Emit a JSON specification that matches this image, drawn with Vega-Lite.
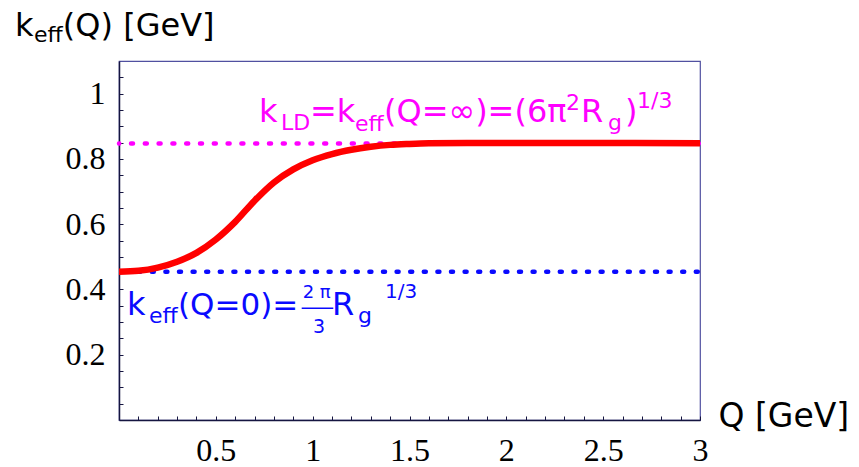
{
  "$schema": "https://vega.github.io/schema/vega-lite/v6.json",
  "width": 581,
  "height": 359,
  "autosize": {"type": "none"},
  "padding": {"left": 119, "top": 61, "right": 159, "bottom": 47},
  "background": "white",
  "config": {
    "view": {"stroke": "#5050a0", "strokeWidth": 1.2},
    "axis": {"grid": false, "domainColor": "#151540", "domainWidth": 1.5, "tickColor": "#151540", "tickWidth": 1, "labelFont": "Liberation Serif", "labelFontSize": 32, "labelColor": "#000000"},
    "text": {"font": "DejaVu Sans", "fontWeight": "normal", "align": "left", "baseline": "alphabetic"}
  },
  "datasets": {
    "curve": [
      {"Q": 0.0, "k": 0.454},
      {"Q": 0.1, "k": 0.457},
      {"Q": 0.2, "k": 0.467},
      {"Q": 0.3, "k": 0.485},
      {"Q": 0.4, "k": 0.512},
      {"Q": 0.5, "k": 0.553},
      {"Q": 0.6, "k": 0.607},
      {"Q": 0.7, "k": 0.672},
      {"Q": 0.8, "k": 0.728},
      {"Q": 0.9, "k": 0.768},
      {"Q": 1.0, "k": 0.796},
      {"Q": 1.1, "k": 0.815},
      {"Q": 1.2, "k": 0.828},
      {"Q": 1.3, "k": 0.837},
      {"Q": 1.4, "k": 0.843},
      {"Q": 1.5, "k": 0.846},
      {"Q": 1.6, "k": 0.848},
      {"Q": 1.8, "k": 0.849},
      {"Q": 2.2, "k": 0.849},
      {"Q": 3.0, "k": 0.848}
    ],
    "one": [{"n": 1}]
  },
  "data": {"name": "one"},
  "layer": [
    {
      "mark": {"type": "rule", "color": "#ff00ff", "strokeWidth": 4.5, "strokeDash": [2, 11.8], "strokeCap": "round", "strokeDashOffset": 12.6},
      "encoding": {"y": {"datum": 0.847, "type": "quantitative"}}
    },
    {
      "mark": {"type": "rule", "color": "#0a0aff", "strokeWidth": 4.5, "strokeDash": [2, 11.6], "strokeCap": "round", "strokeDashOffset": 11.4},
      "encoding": {"y": {"datum": 0.454, "type": "quantitative"}}
    },
    {
      "data": {"name": "curve"},
      "mark": {"type": "line", "color": "#ff0000", "strokeWidth": 6.5, "interpolate": "monotone", "clip": true},
      "encoding": {
        "x": {"field": "Q", "type": "quantitative",
          "scale": {"domain": [0, 3], "nice": false, "zero": false},
          "axis": {
            "values": [0.1,0.2,0.3,0.4,0.5,0.6,0.7,0.8,0.9,1.0,1.1,1.2,1.3,1.4,1.5,1.6,1.7,1.8,1.9,2.0,2.1,2.2,2.3,2.4,2.5,2.6,2.7,2.8,2.9,3.0],
            "tickCount": 100,
            "labelExpr": "abs(datum.value*2 - round(datum.value*2)) < 0.001 ? format(datum.value, '~g') : ''",
            "labelOverlap": false,
            "labelFlush": false,
            "tickSize": -4,
            "labelPadding": 44.7,
            "labelBaseline": "alphabetic",
            "title": "Q [GeV]",
            "titleFont": "DejaVu Sans",
            "titleFontSize": 33,
            "titleFontWeight": "normal",
            "titleColor": "#000000",
            "titleAlign": "left",
            "titleBaseline": "alphabetic",
            "titleAnchor": "start",
            "titleX": 599,
            "titleY": 6.7
          }
        },
        "y": {"field": "k", "type": "quantitative",
          "scale": {"domain": [0, 1.1], "nice": false, "zero": false},
          "axis": {
            "values": [0.05,0.1,0.15,0.2,0.25,0.3,0.35,0.4,0.45,0.5,0.55,0.6,0.65,0.7,0.75,0.8,0.85,0.9,0.95,1.0,1.05],
            "tickCount": 100,
            "labelExpr": "abs(datum.value*5 - round(datum.value*5)) < 0.001 ? format(datum.value, '~g') : ''",
            "labelOverlap": false,
            "labelFlush": false,
            "tickSize": -4,
            "labelPadding": 18,
            "title": null
          }
        }
      }
    },
    {"mark": {"type": "text", "text": "k", "fontSize": 32, "fill": "#000000"},
     "encoding": {"x": {"datum": -0.5370, "type": "quantitative"}, "y": {"datum": 1.1765, "type": "quantitative"}}},
    {"mark": {"type": "text", "text": "eff", "fontSize": 22, "fill": "#000000"},
     "encoding": {"x": {"datum": -0.4389, "type": "quantitative"}, "y": {"datum": 1.1581, "type": "quantitative"}}},
    {"mark": {"type": "text", "text": "(Q) [GeV]", "fontSize": 32, "fill": "#000000"},
     "encoding": {"x": {"datum": -0.290, "type": "quantitative"}, "y": {"datum": 1.1765, "type": "quantitative"}}},

    {"mark": {"type": "text", "text": "k", "fontSize": 32, "fill": "#ff00ff"},
     "encoding": {"x": {"datum": 0.7229, "type": "quantitative"}, "y": {"datum": 0.9139, "type": "quantitative"}}},
    {"mark": {"type": "text", "text": "LD", "fontSize": 22, "fill": "#ff00ff"},
     "encoding": {"x": {"datum": 0.8365, "type": "quantitative"}, "y": {"datum": 0.8885, "type": "quantitative"}}},
    {"mark": {"type": "text", "text": "=k", "fontSize": 32, "fill": "#ff00ff"},
     "encoding": {"x": {"datum": 0.9862, "type": "quantitative"}, "y": {"datum": 0.9139, "type": "quantitative"}}},
    {"mark": {"type": "text", "text": "eff", "fontSize": 22, "fill": "#ff00ff"},
     "encoding": {"x": {"datum": 1.2186, "type": "quantitative"}, "y": {"datum": 0.887, "type": "quantitative"}}},
    {"mark": {"type": "text", "text": "(Q=∞)=(6π", "fontSize": 32, "fill": "#ff00ff"},
     "encoding": {"x": {"datum": 1.3683, "type": "quantitative"}, "y": {"datum": 0.9139, "type": "quantitative"}}},
    {"mark": {"type": "text", "text": "2", "fontSize": 22, "fill": "#ff00ff"},
     "encoding": {"x": {"datum": 2.3080, "type": "quantitative"}, "y": {"datum": 0.9498, "type": "quantitative"}}},
    {"mark": {"type": "text", "text": "R", "fontSize": 32, "fill": "#ff00ff"},
     "encoding": {"x": {"datum": 2.3855, "type": "quantitative"}, "y": {"datum": 0.9139, "type": "quantitative"}}},
    {"mark": {"type": "text", "text": "g", "fontSize": 22, "fill": "#ff00ff"},
     "encoding": {"x": {"datum": 2.5248, "type": "quantitative"}, "y": {"datum": 0.8885, "type": "quantitative"}}},
    {"mark": {"type": "text", "text": ")", "fontSize": 32, "fill": "#ff00ff"},
     "encoding": {"x": {"datum": 2.6127, "type": "quantitative"}, "y": {"datum": 0.9139, "type": "quantitative"}}},
    {"mark": {"type": "text", "text": "1/3", "fontSize": 22, "fill": "#ff00ff"},
     "encoding": {"x": {"datum": 2.6747, "type": "quantitative"}, "y": {"datum": 0.955, "type": "quantitative"}}},

    {"mark": {"type": "text", "text": "k", "fontSize": 32, "fill": "#0a0aff"},
     "encoding": {"x": {"datum": 0.0413, "type": "quantitative"}, "y": {"datum": 0.3217, "type": "quantitative"}}},
    {"mark": {"type": "text", "text": "eff", "fontSize": 22, "fill": "#0a0aff"},
     "encoding": {"x": {"datum": 0.1550, "type": "quantitative"}, "y": {"datum": 0.2981, "type": "quantitative"}}},
    {"mark": {"type": "text", "text": "(Q=0)=", "fontSize": 31, "fill": "#0a0aff"},
     "encoding": {"x": {"datum": 0.3046, "type": "quantitative"}, "y": {"datum": 0.3217, "type": "quantitative"}}},
    {"mark": {"type": "text", "text": "2 π", "fontSize": 18, "align": "center", "fill": "#0a0aff"},
     "encoding": {"x": {"datum": 1.0208, "type": "quantitative"}, "y": {"datum": 0.3729, "type": "quantitative"}}},
    {"mark": {"type": "rule", "color": "#0a0aff", "strokeWidth": 1.5},
     "encoding": {"x": {"datum": 0.9434, "type": "quantitative"}, "x2": {"datum": 1.1065}, "y": {"datum": 0.3422, "type": "quantitative"}}},
    {"mark": {"type": "text", "text": "3", "fontSize": 19, "align": "center", "fill": "#0a0aff"},
     "encoding": {"x": {"datum": 1.0327, "type": "quantitative"}, "y": {"datum": 0.2656, "type": "quantitative"}}},
    {"mark": {"type": "text", "text": "R", "fontSize": 32, "fill": "#0a0aff"},
     "encoding": {"x": {"datum": 1.0998, "type": "quantitative"}, "y": {"datum": 0.3217, "type": "quantitative"}}},
    {"mark": {"type": "text", "text": "g", "fontSize": 22, "fill": "#0a0aff"},
     "encoding": {"x": {"datum": 1.2341, "type": "quantitative"}, "y": {"datum": 0.2981, "type": "quantitative"}}},
    {"mark": {"type": "text", "text": "1/3", "fontSize": 20, "fill": "#0a0aff"},
     "encoding": {"x": {"datum": 1.3735, "type": "quantitative"}, "y": {"datum": 0.3729, "type": "quantitative"}}}
  ]
}
